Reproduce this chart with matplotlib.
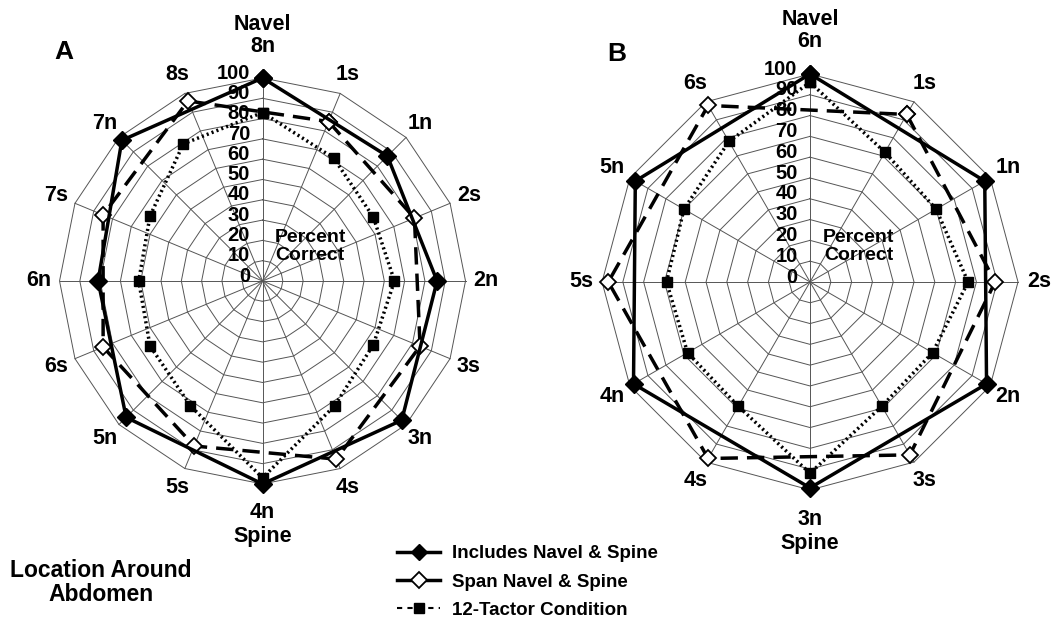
import numpy as np
import matplotlib
matplotlib.use('Agg')
import matplotlib.pyplot as plt
from matplotlib.lines import Line2D

plt.rcParams['font.family'] = ['Liberation Sans', 'DejaVu Sans']
plt.rcParams['font.weight'] = 'bold'

# ── Data (percent correct) ─────────────────────────────────────
# Panel A : 16 locations around abdomen
a_labels   = ['8n', '1s', '1n', '2s', '2n', '3s', '3n', '4s',
              '4n', '5s', '5n', '6s', '6n', '7s', '7n', '8s']
a_includes = [100, 87, 86, 97, 100, 95, 81, 98]        # 8n, 1n ... 7n
a_span     = [85, 81, 84, 95, 88, 85, 85, 96]          # 1s ... 8s
a_tactor   = [83, 70, 63, 65, 63, 71, 97, 71, 64, 61, 64, 78]

# Panel B : 12 locations around abdomen
b_labels   = ['6n', '1s', '1n', '2s', '2n', '3s',
              '3n', '4s', '4n', '5s', '5n', '6s']
b_includes = [100, 97, 98, 99, 98, 97]                 # 6n, 1n ... 5n
b_span     = [93, 89, 96, 98, 97, 98]                  # 1s ... 6s
b_tactor   = [96, 72, 70, 76, 68, 69, 92, 69, 68, 69, 70, 78]

ring_levels  = list(range(0, 101, 10))
top_extra    = 'Navel'
bottom_extra = 'Spine'
series_names = ['Includes Navel & Spine', 'Span Navel & Spine',
                '12-Tactor Condition']

GRID = '#555555'


def closed(theta, r):
    return np.append(theta, theta[0]), np.append(r, r[0])


def radar(ax, labels, includes, span, tactor):
    n = len(labels)
    spokes = np.arange(n) * 2 * np.pi / n

    ax.set_theta_zero_location('N')
    ax.set_theta_direction(-1)
    ax.set_ylim(0, 100)
    ax.set_axis_off()

    # polygon grid
    for lev in ring_levels[1:]:
        t, r = closed(spokes, np.full(n, lev))
        ax.plot(t, r, color=GRID, lw=0.7, zorder=1, clip_on=False)
    for th in spokes:
        ax.plot([th, th], [0, 100], color=GRID, lw=0.7, zorder=1,
                clip_on=False)

    # ring labels, left of the top spoke
    for lev in ring_levels:
        ax.annotate(str(lev), xy=(0, lev), xytext=(-9, 3.5),
                    textcoords='offset points', ha='right', va='center',
                    fontsize=14.5, fontweight='bold', zorder=2)

    # location labels
    for th, lab in zip(spokes, labels):
        if th == 0:
            ax.text(th, 110.5, f'{top_extra}\n{lab}', ha='center',
                    va='bottom', fontsize=15.5, linespacing=1.05)
        elif np.isclose(th, np.pi):
            ax.text(th, 109, f'{lab}\n{bottom_extra}', ha='center',
                    va='top', fontsize=15.5, linespacing=1.2)
        else:
            ax.text(th, 110, lab, ha='center', va='center', fontsize=15.5)

    ax.text(np.deg2rad(54), 29, 'Percent\nCorrect', ha='center',
            va='center', fontsize=14, linespacing=1.1)

    # series
    n_pos = spokes[0::2]
    s_pos = spokes[1::2]
    t_pos = np.arange(len(tactor)) * 2 * np.pi / len(tactor)

    t, r = closed(t_pos, np.array(tactor))
    ax.plot(t, r, color='black', lw=2.5, ls=(0, (0.6, 0.9)),
            marker='s', ms=7.5, mfc='black', mec='black', zorder=3,
            clip_on=False)
    t, r = closed(s_pos, np.array(span))
    ax.plot(t, r, color='black', lw=2.5, ls=(0, (5, 2.6)),
            marker='D', ms=8.5, mfc='white', mec='black', mew=1.3,
            zorder=4, clip_on=False)
    t, r = closed(n_pos, np.array(includes))
    ax.plot(t, r, color='black', lw=2.5, ls='-',
            marker='D', ms=9, mfc='black', mec='black', zorder=5,
            clip_on=False)


fig = plt.figure(figsize=(10.59, 6.31), dpi=100)

ax_a = fig.add_axes([0.0562, 0.233, 0.3834, 0.6434], projection='polar')
radar(ax_a, a_labels, a_includes, a_span, a_tactor)

ax_b = fig.add_axes([0.5685, 0.2235, 0.3928, 0.6593], projection='polar')
radar(ax_b, b_labels, b_includes, b_span, b_tactor)

fig.text(0.051, 0.917, 'A', fontsize=19, fontweight='bold', ha='left',
         va='center')
fig.text(0.573, 0.914, 'B', fontsize=19, fontweight='bold', ha='left',
         va='center')
fig.text(0.095, 0.077, 'Location Around\nAbdomen', fontsize=16.5,
         ha='center', va='center', linespacing=1.1)

# legend as drawn in the original figure
handles = [
    Line2D([], [], color='black', lw=2.5, marker='D', ms=8,
           mfc='black', mec='black'),
    Line2D([], [], color='black', lw=2.5, marker='D', ms=8,
           mfc='white', mec='black', mew=1.3),
    Line2D([], [], color='black', lw=1.5, ls=(0, (2.5, 2.5)), marker='s',
           ms=7, mfc='black', mec='black'),
]
fig.legend(handles, series_names, loc='upper left',
           bbox_to_anchor=(0.368, 0.148), frameon=False, fontsize=13.5,
           handlelength=2.3, labelspacing=0.6, handletextpad=0.6,
           borderaxespad=0)

fig.savefig('out.png', dpi=100)
